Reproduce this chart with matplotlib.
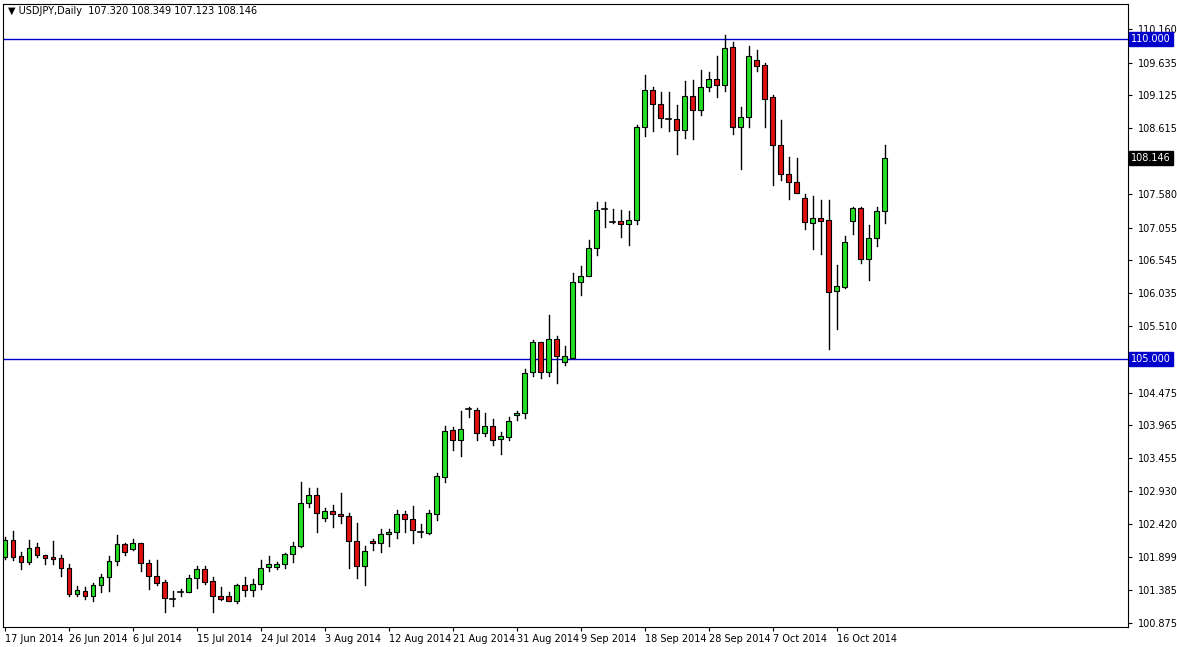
import matplotlib
matplotlib.use("Agg")
import matplotlib.pyplot as plt
from matplotlib.patches import Rectangle

opens = [101.90,102.17,101.92,101.82,102.06,101.94,101.91,101.89,101.73,101.32,101.37,101.29,101.46,101.59,101.84,102.11,102.03,102.12,101.81,101.60,101.51,101.26,101.35,101.35,101.57,101.72,101.53,101.30,101.30,101.21,101.46,101.39,101.49,101.75,101.75,101.80,101.95,
         102.07,102.75,102.87,102.51,102.63,102.57,102.55,102.16,101.76,102.16,102.12,102.26,102.30,102.57,102.50,102.31,102.28,102.57,103.16,103.89,103.73,104.20,104.20,103.84,103.95,103.75,103.78,104.12,104.15,104.79,105.26,104.79,105.31,104.95,
         105.02,106.20,106.30,106.73,107.33,107.15,107.15,107.11,107.17,108.62,109.20,108.98,108.76,108.75,108.58,109.11,108.90,109.25,109.37,109.29,109.87,108.63,108.78,109.68,109.60,109.09,108.34,107.90,107.76,107.51,107.12,107.20,107.18,106.07,106.13,107.15,107.36,106.56,106.89,107.320]
highs = [102.22,102.31,101.99,102.17,102.13,101.94,102.16,101.94,101.79,101.45,101.44,101.50,101.64,101.92,102.25,102.13,102.19,102.13,101.85,101.85,101.55,101.38,101.40,101.62,101.76,101.77,101.59,101.44,101.35,101.48,101.59,101.56,101.85,101.92,101.83,101.97,102.14,
         103.07,102.99,102.99,102.67,102.72,102.91,102.59,102.44,102.07,102.18,102.34,102.34,102.64,102.62,102.70,102.42,102.64,103.22,103.95,103.94,104.19,104.25,104.23,104.15,104.06,103.86,104.09,104.19,104.84,105.30,105.27,105.69,105.36,105.21,
         106.34,106.46,106.86,107.46,107.46,107.34,107.33,107.31,108.66,109.44,109.25,109.18,109.18,108.97,109.34,109.36,109.52,109.49,109.73,110.07,109.95,108.94,109.89,109.83,109.63,109.13,108.73,108.16,108.15,107.58,107.55,107.48,107.49,106.47,106.92,107.38,107.37,107.10,107.37,108.349]
lows = [101.87,101.85,101.71,101.79,101.90,101.79,101.80,101.60,101.29,101.30,101.24,101.21,101.36,101.38,101.78,101.94,102.01,101.68,101.41,101.47,101.04,101.14,101.30,101.35,101.42,101.49,101.05,101.23,101.21,101.18,101.30,101.29,101.40,101.69,101.72,101.73,101.83,
        102.06,102.69,102.30,102.46,102.38,102.44,101.74,101.57,101.47,102.02,101.99,102.07,102.20,102.30,102.12,102.22,102.27,102.49,103.08,103.57,103.48,104.10,103.74,103.80,103.66,103.52,103.73,104.05,104.07,104.74,104.71,104.73,104.62,104.90,
        105.01,106.00,106.29,106.62,107.07,107.12,106.90,106.78,107.11,108.48,108.56,108.63,108.57,108.21,108.46,108.44,108.82,109.19,109.09,109.19,108.52,107.97,108.63,109.51,108.62,107.72,107.80,107.50,107.59,107.03,106.72,106.64,105.15,105.47,106.11,106.96,106.50,106.23,106.76,107.123]
closes = [102.17,101.91,101.82,102.04,101.93,101.89,101.88,101.73,101.32,101.39,101.29,101.47,101.59,101.84,102.11,101.99,102.12,101.81,101.60,101.50,101.26,101.25,101.36,101.58,101.72,101.52,101.29,101.24,101.22,101.47,101.39,101.49,101.73,101.80,101.80,101.95,102.08,
          102.75,102.87,102.59,102.63,102.57,102.54,102.15,101.76,102.00,102.12,102.26,102.30,102.57,102.50,102.33,102.30,102.59,103.17,103.87,103.73,103.90,104.22,103.84,103.95,103.74,103.79,104.03,104.15,104.78,105.26,104.79,105.32,105.04,105.05,
          106.20,106.30,106.73,107.33,107.34,107.14,107.11,107.17,108.62,109.20,108.98,108.76,108.75,108.58,109.11,108.89,109.25,109.37,109.28,109.86,108.63,108.78,109.74,109.58,109.07,108.34,107.90,107.77,107.60,107.14,107.20,107.16,106.05,106.14,106.83,107.36,106.56,106.89,107.31,108.146]

date_labels = ["17 Jun 2014","26 Jun 2014","6 Jul 2014","15 Jul 2014","24 Jul 2014","3 Aug 2014","12 Aug 2014",
               "21 Aug 2014","31 Aug 2014","9 Sep 2014","18 Sep 2014","28 Sep 2014","7 Oct 2014","16 Oct 2014"]
price_ticks = [110.160,109.635,109.125,108.615,107.580,107.055,106.545,106.035,105.510,104.475,103.965,103.455,102.930,102.420,101.899,101.385,100.875]
levels = [110.0, 105.0]

W, H = 1177, 647
fig = plt.figure(figsize=(W/100, H/100), dpi=100)
ax = fig.add_axes([3/W, 1-627/H, (1128-3)/W, (627-4)/H])
ax.set_xlim(-0.25, 140.4)
ax.set_ylim(100.81, 110.55)

bw = 0.62
for i, (o, h, l, c) in enumerate(zip(opens, highs, lows, closes)):
    ax.plot([i, i], [l, h], color="black", lw=1.0, zorder=2)
    lo, hi = min(o, c), max(o, c)
    col = "#22dd22" if c >= o else "#dd1111"
    if hi - lo < 0.02:
        ax.plot([i-bw/2, i+bw/2], [c, c], color="black", lw=1.2, zorder=3)
    else:
        ax.add_patch(Rectangle((i-bw/2, lo), bw, hi-lo, facecolor=col, edgecolor="black", lw=0.8, zorder=3))

for lv in levels:
    ax.axhline(lv, color="#0000cc", lw=1.0, zorder=1)

ax.yaxis.tick_right()
ax.set_yticks(price_ticks)
ax.set_yticklabels([f"{p:.3f}" for p in price_ticks], fontsize=7)
ax.tick_params(axis="y", length=3, pad=4)
ax.set_xticks(range(0, 8*len(date_labels), 8))
ax.set_xticklabels(date_labels, fontsize=7, ha="left")
ax.tick_params(axis="x", length=3, pad=2)
for lab in ax.get_xticklabels():
    lab.set_x(lab.get_position()[0])
for s in ax.spines.values():
    s.set_color("black"); s.set_linewidth(0.8)

for lv in levels:
    ax.text(1.003, lv, f"{lv:.3f}", transform=ax.get_yaxis_transform(), fontsize=7, color="white",
            va="center", ha="left", bbox=dict(boxstyle="square,pad=0.2", fc="#0000cc", ec="#0000cc"))
ax.text(1.003, closes[-1], f"{closes[-1]:.3f}", transform=ax.get_yaxis_transform(), fontsize=7, color="white",
        va="center", ha="left", bbox=dict(boxstyle="square,pad=0.2", fc="black", ec="black"))

ax.text(0.004, 0.997, f"\u25bc USDJPY,Daily  {opens[-1]:.3f} {highs[-1]:.3f} {lows[-1]:.3f} {closes[-1]:.3f}",
        transform=ax.transAxes, fontsize=7, va="top", ha="left")

fig.savefig("out.png", dpi=100, facecolor="white")
